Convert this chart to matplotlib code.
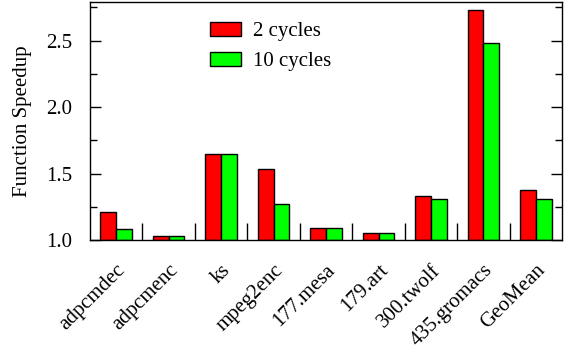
import numpy as np
import matplotlib.pyplot as plt
from matplotlib.ticker import MultipleLocator
from matplotlib.transforms import ScaledTranslation

plt.rcParams['font.family'] = ['Liberation Serif', 'DejaVu Serif']

benchmarks = ['adpcmdec', 'adpcmenc', 'ks', 'mpeg2enc', '177.mesa',
              '179.art', '300.twolf', '435.gromacs', 'GeoMean']
cycles2 = [1.21, 1.03, 1.65, 1.535, 1.09, 1.055, 1.33, 2.73, 1.38]
cycles10 = [1.08, 1.03, 1.645, 1.27, 1.09, 1.055, 1.31, 2.485, 1.31]

fs = 15
fig = plt.figure(figsize=(5.69, 3.49), dpi=100)
ax = fig.add_axes([0.158, 0.312, 0.830, 0.682])

x = np.arange(len(benchmarks))
w = 0.3
ax.bar(x - w / 2, np.array(cycles2) - 1.0, w, bottom=1.0, color='#ff0000',
       edgecolor='black', linewidth=1, label='2 cycles')
ax.bar(x + w / 2, np.array(cycles10) - 1.0, w, bottom=1.0, color='#00ff00',
       edgecolor='black', linewidth=1, label='10 cycles')

ax.set_xlim(-0.5, len(benchmarks) - 0.5)
ax.set_ylim(1.0, 2.79)

ax.set_xticks(x)
ax.set_xticklabels(benchmarks, rotation=45, ha='right', rotation_mode='anchor',
                   fontsize=fs)
shift = ScaledTranslation(-5 / 100, 0, fig.dpi_scale_trans)
for lbl in ax.get_xticklabels():
    lbl.set_transform(lbl.get_transform() + shift)
ax.set_xticks(np.arange(0.5, len(benchmarks) - 1, 1.0), minor=True)
ax.tick_params(axis='x', which='major', length=0, pad=15)
ax.tick_params(axis='x', which='minor', direction='in', length=12, width=1)

ax.yaxis.set_minor_locator(MultipleLocator(0.25))
ax.set_yticks([1.0, 1.5, 2.0, 2.5])
ax.set_yticklabels(['1.0', '1.5', '2.0', '2.5'], fontsize=fs)
ax.tick_params(axis='y', which='both', direction='in', right=True, width=1)
ax.tick_params(axis='y', which='major', length=8, pad=13)
ax.tick_params(axis='y', which='minor', length=5)

ax.set_ylabel('Function Speedup', fontsize=fs, labelpad=10)

for s in ax.spines.values():
    s.set_linewidth(1)

ax.legend(loc='upper left', bbox_to_anchor=(0.254, 0.917), frameon=False,
          fontsize=fs, handlelength=1.5, handleheight=0.67, labelspacing=0.5,
          handletextpad=0.58, borderpad=0, borderaxespad=0)

fig.savefig('out.png', dpi=100)
